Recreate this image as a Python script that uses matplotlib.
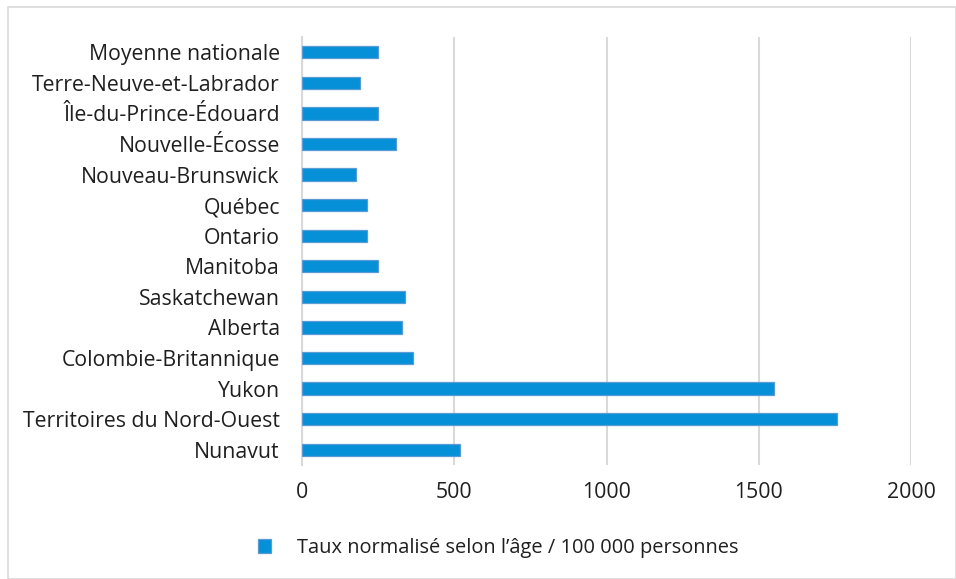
import matplotlib
matplotlib.use("Agg")
import matplotlib.pyplot as plt
from matplotlib.patches import Rectangle

plt.rcParams['font.family'] = ['Open Sans', 'DejaVu Sans']

regions = [
    "Moyenne nationale",
    "Terre-Neuve-et-Labrador",
    "Île-du-Prince-Édouard",
    "Nouvelle-Écosse",
    "Nouveau-Brunswick",
    "Québec",
    "Ontario",
    "Manitoba",
    "Saskatchewan",
    "Alberta",
    "Colombie-Britannique",
    "Yukon",
    "Territoires du Nord-Ouest",
    "Nunavut",
]
rates = [251, 191, 250, 309, 177, 212, 212, 250, 338, 328, 364, 1550, 1757, 520]
series_label = "Taux normalisé selon l’âge / 100 000 personnes"
x_ticks = [0, 500, 1000, 1500, 2000]

W, H = 956, 579
fig = plt.figure(figsize=(W / 100, H / 100), dpi=100)
ax = fig.add_axes([302 / W, 1 - 465 / H, (911 - 302) / W, (465 - 37) / H])

ypos = list(range(len(regions)))[::-1]
ax.barh(ypos, rates, height=0.4, color='#0590D8', edgecolor='#5B9BD5',
        linewidth=0.9, label=series_label, zorder=3)

ax.set_xlim(0, 2000)
ax.set_ylim(-0.5, len(regions) - 0.5)
ax.set_xticks(x_ticks)
ax.set_xticklabels([str(t) for t in x_ticks])
ax.set_yticks(ypos)
ax.set_yticklabels(regions)
ax.tick_params(axis='y', length=0, pad=16, labelsize=15.3, labelcolor='#1f1f1f')
ax.tick_params(axis='x', length=0, pad=12, labelsize=15.3, labelcolor='#1f1f1f')

ax.grid(axis='x', color='#D9D9D9', linewidth=1.5, zorder=0)
for s in ['top', 'right', 'bottom']:
    ax.spines[s].set_visible(False)
ax.spines['left'].set_color('#D9D9D9')
ax.spines['left'].set_linewidth(1.5)

fig.legend(loc='center', bbox_to_anchor=(498 / W, 1 - 548 / H), frameon=False,
           fontsize=14.4, handlelength=0.65, handleheight=0.65, handletextpad=1.3,
           labelcolor='#1f1f1f')

fig.patches.append(Rectangle((8 / W, 0), (W - 8) / W, (H - 7) / H,
                             transform=fig.transFigure, fill=False,
                             edgecolor='#D9D9D9', linewidth=1.2))

fig.savefig("out.png", dpi=100)
